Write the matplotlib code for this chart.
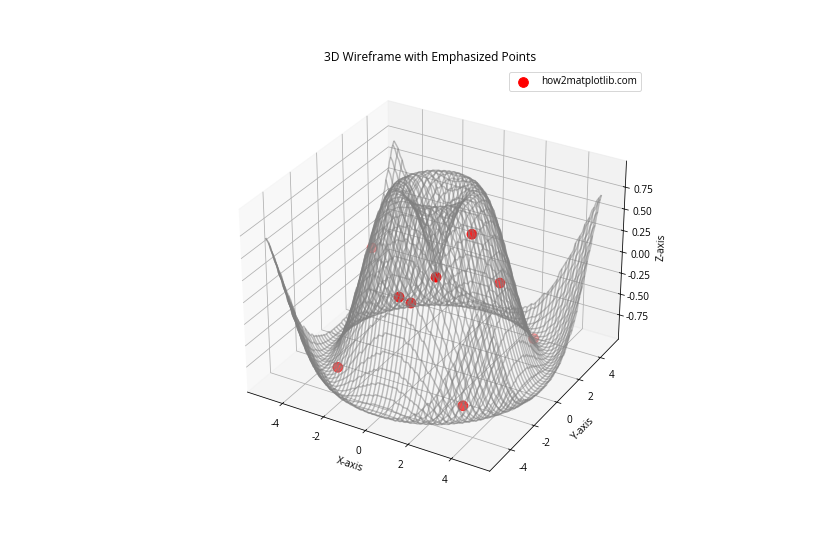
import numpy as np
import matplotlib
matplotlib.use('Agg')
import matplotlib.pyplot as plt

plt.rcParams['font.family'] = ['Open Sans', 'DejaVu Sans']
plt.rcParams['font.size'] = 10.3
plt.rcParams['axes.unicode_minus'] = False

# Surface height against distance from the centre, every 0.05 in radius (estimated profile).
radial_heights = [
 0,.05,.10,.149,.199,.247,.296,.343,.389,.435,.479,.523,.565,.605,.644,.682,.717,.751,.783,.813,
 .841,.867,.891,.913,.932,.949,.964,.976,.985,.993,.997,.9998,.9996,.997,.992,.984,.974,.961,.946,.929,
 .909,.887,.863,.837,.808,.778,.746,.711,.675,.638,.598,.558,.516,.472,.427,.382,.335,.287,.239,.190,
 .141,.091,.042,-.008,-.058,-.108,-.158,-.207,-.256,-.304,-.351,-.397,-.443,-.487,-.530,-.572,-.612,-.651,-.688,-.723,
 -.757,-.788,-.818,-.846,-.872,-.895,-.916,-.935,-.952,-.966,-.978,-.987,-.994,-.998,-.9998,-.999,-.996,-.991,-.982,-.972,
 -.959,-.944,-.926,-.906,-.883,-.859,-.832,-.803,-.773,-.740,-.706,-.669,-.631,-.592,-.551,-.508,-.465,-.420,-.374,-.327,
 -.279,-.231,-.182,-.133,-.083,-.033,.017,.067,.117,.166,.215,.264,.312,.359,.405,.450,.494,.536,.578,.618,
 .657,.694,.729]
grid_x = np.linspace(-5, 5, 100)
grid_y = np.linspace(-5, 5, 100)
X, Y = np.meshgrid(grid_x, grid_y)
Z = np.array(radial_heights)[np.rint(np.hypot(X, Y) / 0.05).astype(int)]

point_x = [-2.77, 2.05, 1.53, 0.19, 0.66, 3.15, 3.86, -1.88, 3.05]
point_y = [-0.54, -0.70, -2.67, -3.31, -3.18, -0.31, 1.41, -4.75, -3.13]
point_z = [0.21, 0.71, 0.43, 0.19, 0.14, 0.19, -0.62, -0.585, -0.87]
z_ticks = [-0.75, -0.50, -0.25, 0.00, 0.25, 0.50, 0.75]

fig = plt.figure(figsize=(12, 8), dpi=70)
ax = fig.add_subplot(111, projection='3d')
ax.plot_wireframe(X, Y, Z, color='gray', alpha=0.5, rstride=2, cstride=2)
ax.scatter(point_x, point_y, point_z, color='red', s=100, label='how2matplotlib.com')
ax.set_zlim(-1.045, 1.045)
ax.set_zticks(z_ticks)
ax.set_title('3D Wireframe with Emphasized Points')
ax.set_xlabel('X-axis')
ax.set_ylabel('Y-axis')
ax.set_zlabel('Z-axis')
ax.legend()
fig.savefig('out.png')
